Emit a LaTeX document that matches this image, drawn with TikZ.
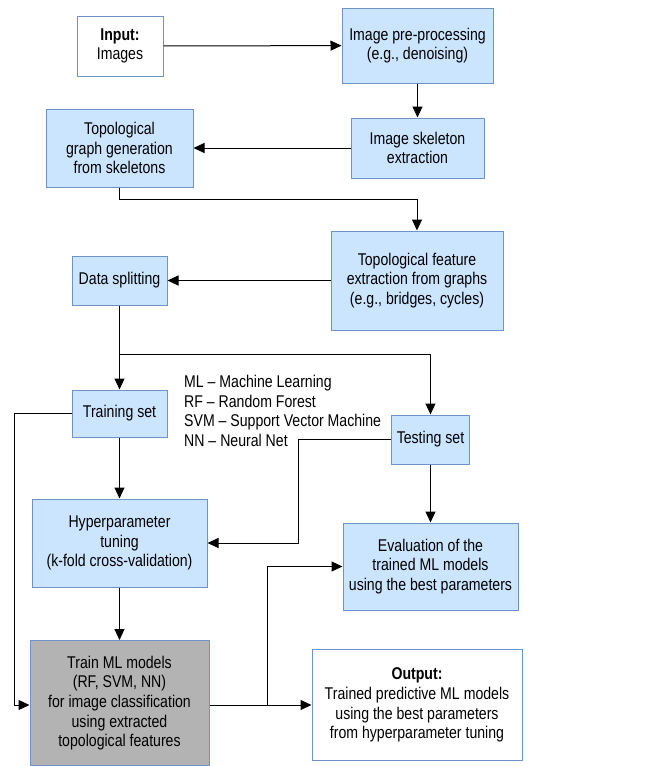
\documentclass[tikz,border=0pt]{standalone}
\usepackage{fontspec}
\setmainfont{Liberation Sans}[FakeStretch=0.83]
\usepackage{tikz}
\usetikzlibrary{arrows.meta}
\usepackage{xcolor}
\definecolor{boxfill}{RGB}{204,229,255}
\definecolor{boxline}{RGB}{110,147,201}
\definecolor{trainfill}{RGB}{179,179,179}

\begin{document}
\begin{tikzpicture}[x=1pt, y=-1pt,
	font=\fontsize{17}{19.7}\selectfont,
	box/.style={draw=boxline, line width=1pt, fill=boxfill, align=center, inner sep=2pt},
	plainbox/.style={box, fill=white},
	greybox/.style={box, fill=trainfill},
	flow/.style={line width=1pt, -{Triangle[length=11pt, width=10pt]}}]
	\useasboundingbox (0,0) rectangle (650,766);

	\node [plainbox, minimum width=86pt, minimum height=60pt] (input) at (120,46) {\textbf{Input:}\\Images};
	\node [box, minimum width=151pt, minimum height=75pt] (prep) at (417.5,45.5) {Image pre-processing\\(e.g., denoising)};
	\node [box, minimum width=133pt, minimum height=60pt] (skel) at (417.5,148) {Image skeleton\\extraction};
	\node [box, minimum width=147pt, minimum height=78pt] (graph) at (119.5,148) {Topological\\graph generation\\from skeletons};
	\node [box, minimum width=172pt, minimum height=99pt] (feat) at (417,280.5) {Topological feature\\extraction from graphs\\(e.g., bridges, cycles)};
	\node [box, minimum width=95pt, minimum height=49pt] (split) at (119.5,280.5) {Data splitting};
	\node [box, minimum width=95pt, minimum height=47pt] (trainset) at (119.5,413.5) {Training set};
	\node [box, minimum width=78pt, minimum height=49pt] (testset) at (430.5,439.5) {Testing set};
	\node [box, minimum width=175pt, minimum height=88pt] (hyper) at (119.5,543) {Hyperparameter\\tuning\\(k-fold cross-validation)};
	\node [box, minimum width=175pt, minimum height=87pt] (eval) at (430.5,566.5) {Evaluation of the\\trained ML models\\using the best parameters};
	\node [greybox, minimum width=179pt, minimum height=125pt] (train) at (119.5,703) {Train ML models\\(RF, SVM, NN)\\for image classification\\using extracted\\topological features};
	\node [plainbox, minimum width=210pt, minimum height=111pt] (output) at (417,705) {\textbf{Output:}\\Trained predictive ML models\\using the best parameters\\from hyperparameter tuning};

	% abbreviations
	\node [anchor=north west, align=left, inner sep=0pt] (legend) at (184,375) {ML -- Machine Learning\\RF -- Random Forest\\SVM -- Support Vector Machine\\NN -- Neural Net};

	\draw [flow] (input) -- (prep);
	\draw [flow] (prep) -- (skel);
	\draw [flow] (skel) -- (graph);
	\draw [flow] (graph.south) |- (417,199.5) -| (feat.north);
	\draw [flow] (feat) -- (split);
	\draw [flow] (split) -- (trainset);
	\draw [flow] (split.south) |- (430.5,354) -| (testset.north);
	\draw [flow] (trainset.west) -| (14,705) -- (train.west |- 0,705);
	\draw [flow] (trainset) -- (hyper);
	\draw [flow] (testset.west) -| (298.5,543) -- (hyper.east);
	\draw [flow] (testset) -- (eval);
	\draw [flow] (hyper) -- (train);
	\draw [flow] (train.east |- 0,705) -- (output.west);
	\draw [flow] (267,705) |- (eval.west);
\end{tikzpicture}
\end{document}
